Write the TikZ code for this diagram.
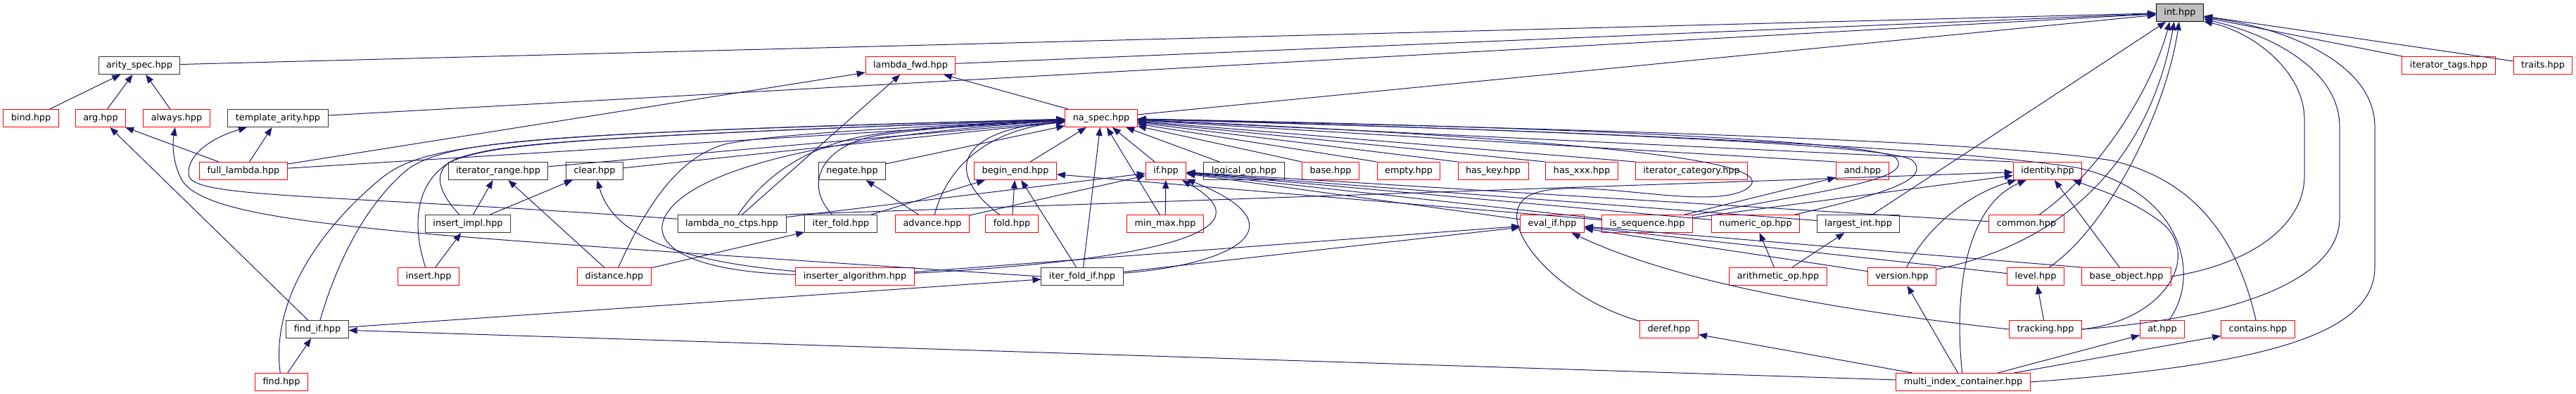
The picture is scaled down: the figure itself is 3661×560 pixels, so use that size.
\documentclass[tikz,border=0pt]{standalone}
\usepackage{fontspec}
\setmainfont{DejaVu Sans}
\usetikzlibrary{arrows.meta}
\definecolor{midnightblue}{RGB}{25,25,112}
\definecolor{grey75}{RGB}{191,191,191}
\begin{document}
\begin{tikzpicture}[x=0.5pt,y=-0.5pt,
    file/.style={draw=black!80, line width=0.5pt, minimum height=12.5pt,
      inner xsep=5.5pt, inner ysep=0pt, text height=4.8pt, text depth=1.4pt,
      font=\fontsize{6.4}{7.6}\selectfont},
    part/.style={file, draw=red},
    root/.style={file, draw=black, fill=grey75},
    dep/.style={midnightblue, line width=0.5pt, -{Triangle[length=6pt,width=4.6pt]}}]
  \useasboundingbox (0,0) rectangle (3661,560);

  \node[root] (int) at (3098,18) {int.hpp}; % the header itself

  \node[file] (arity_spec) at (198,93) {arity\_spec.hpp};
  \node[part] (lambda_fwd) at (1294,93) {lambda\_fwd.hpp};
  \node[part] (iterator_tags) at (3480,93) {iterator\_tags.hpp};
  \node[part] (traits) at (3614,93) {traits.hpp};

  \node[part] (bind) at (44,168) {bind.hpp};
  \node[part] (arg) at (143,168) {arg.hpp};
  \node[part] (always) at (251,168) {always.hpp};
  \node[file] (template_arity) at (395,168) {template\_arity.hpp};
  \node[part] (na_spec) at (1565,168) {na\_spec.hpp};

  \node[part] (full_lambda) at (346,243) {full\_lambda.hpp};
  \node[file] (iterator_range) at (708,243) {iterator\_range.hpp};
  \node[file] (clear) at (845,243) {clear.hpp};
  \node[file] (negate) at (1211,243) {negate.hpp};
  \node[part] (begin_end) at (1443,243) {begin\_end.hpp};
  \node[part] (if) at (1657,243) {if.hpp};
  \node[file] (logical_op) at (1768,243) {logical\_op.hpp};
  \node[part] (base) at (1891,243) {base.hpp};
  \node[part] (empty) at (2002,243) {empty.hpp};
  \node[part] (has_key) at (2122,243) {has\_key.hpp};
  \node[part] (has_xxx) at (2248,243) {has\_xxx.hpp};
  \node[part] (iterator_category) at (2404,243) {iterator\_category.hpp};
  \node[part] (and) at (2647,243) {and.hpp};
  \node[part] (identity) at (2910,243) {identity.hpp};

  \node[file] (insert_impl) at (665,318) {insert\_impl.hpp};
  \node[file] (lambda_no_ctps) at (1040,318) {lambda\_no\_ctps.hpp};
  \node[file] (iter_fold) at (1195,318) {iter\_fold.hpp};
  \node[part] (advance) at (1325,318) {advance.hpp};
  \node[part] (fold) at (1438,318) {fold.hpp};
  \node[part] (min_max) at (1656,318) {min\_max.hpp};
  \node[part] (eval_if) at (2206,318) {eval\_if.hpp};
  \node[part] (is_sequence) at (2341,318) {is\_sequence.hpp};
  \node[part] (numeric_op) at (2495,318) {numeric\_op.hpp};
  \node[file] (largest_int) at (2641,318) {largest\_int.hpp};
  \node[part] (common) at (2880,318) {common.hpp};

  \node[part] (insert) at (609,393) {insert.hpp};
  \node[part] (distance) at (873,393) {distance.hpp};
  \node[part] (inserter_algorithm) at (1215,393) {inserter\_algorithm.hpp};
  \node[file] (iter_fold_if) at (1538,393) {iter\_fold\_if.hpp};
  \node[part] (arithmetic_op) at (2527,393) {arithmetic\_op.hpp};
  \node[part] (version) at (2703,393) {version.hpp};
  \node[part] (level) at (2893,393) {level.hpp};
  \node[part] (base_object) at (3022,393) {base\_object.hpp};

  \node[file] (find_if) at (451,468) {find\_if.hpp};
  \node[part] (deref) at (2372,468) {deref.hpp};
  \node[part] (tracking) at (2907,468) {tracking.hpp};
  \node[part] (at) at (3073,468) {at.hpp};
  \node[part] (contains) at (3209,468) {contains.hpp};

  \node[part] (find) at (400,543) {find.hpp};
  \node[part] (multi_index_container) at (2790,543) {multi\_index\_container.hpp};

  % edges into int.hpp
  \draw[dep] (arity_spec) -- (int);
  \draw[dep] (lambda_fwd) -- (int);
  \draw[dep] (template_arity) -- (int);
  \draw[dep] (na_spec) -- (int);
  \draw[dep] (iterator_tags) -- (int);
  \draw[dep] (traits) -- (int);
  \draw[dep] (largest_int) -- (int);
  \draw[dep] (common) .. controls (2990,240) and (3060,120) .. (int.222);
  \draw[dep] (version) .. controls (2960,340) and (3060,200) .. (int.238);
  \draw[dep] (level) .. controls (3000,320) and (3080,150) .. (int.265);
  \draw[dep] (base_object.east) .. controls (3200,375) and (3275,320) .. (3275,250)
    -- (3275,170) .. controls (3275,100) and (3200,45) .. (int.340);
  \draw[dep] (tracking.east) .. controls (3200,450) and (3325,390) .. (3325,310)
    -- (3325,180) .. controls (3325,100) and (3230,50) .. (int.345);
  \draw[dep] (multi_index_container.east) .. controls (3200,520) and (3375,480) .. (3375,380)
    -- (3375,180) .. controls (3375,90) and (3250,40) .. (int.350);

  % arity_spec.hpp and lambda_fwd.hpp
  \draw[dep] (bind) -- (arity_spec);
  \draw[dep] (arg) -- (arity_spec);
  \draw[dep] (always) -- (arity_spec);
  \draw[dep] (full_lambda) -- (lambda_fwd);
  \draw[dep] (lambda_no_ctps) -- (lambda_fwd);
  \draw[dep] (na_spec) -- (lambda_fwd);

  % arg.hpp, always.hpp, template_arity.hpp
  \draw[dep] (full_lambda) -- (arg);
  \draw[dep] (find_if) -- (arg);
  \draw[dep] (full_lambda) -- (template_arity);
  \draw[dep] (lambda_no_ctps.175) .. controls (450,275) and (270,282) .. (268,248)
    .. controls (266,220) and (300,196) .. (template_arity);
  \draw[dep] (iter_fold_if.west) .. controls (1100,368) and (700,342) .. (560,328)
    .. controls (400,312) and (280,295) .. (258,255)
    .. controls (245,230) and (245,205) .. (always);

  % na_spec.hpp from the left
  \draw[dep] (full_lambda) -- (na_spec);
  \draw[dep] (iterator_range) -- (na_spec);
  \draw[dep] (clear) -- (na_spec);
  \draw[dep] (negate) -- (na_spec);
  \draw[dep] (begin_end) -- (na_spec);
  \draw[dep] (iter_fold_if) -- (na_spec);
  \draw[dep] (min_max) -- (na_spec);
  \draw[dep] (if) -- (na_spec);
  \draw[dep] (logical_op) -- (na_spec);
  \draw[dep] (insert_impl) .. controls (620,270) and (610,235) .. (660,222)
    .. controls (720,205) and (800,195) .. (na_spec);
  \draw[dep] (insert) .. controls (585,320) and (590,260) .. (640,230)
    .. controls (700,205) and (800,195) .. (na_spec);
  \draw[dep] (distance) .. controls (915,300) and (960,225) .. (1030,205)
    .. controls (1100,190) and (1300,180) .. (na_spec);
  \draw[dep] (inserter_algorithm) .. controls (960,385) and (920,340) .. (950,300)
    .. controls (990,245) and (1150,195) .. (na_spec);
  \draw[dep] (lambda_no_ctps) .. controls (1080,260) and (1130,215) .. (1220,195)
    .. controls (1300,180) and (1420,175) .. (na_spec);
  \draw[dep] (iter_fold) .. controls (1140,260) and (1170,205) .. (1250,192)
    .. controls (1320,182) and (1420,175) .. (na_spec);
  \draw[dep] (advance) .. controls (1345,240) and (1400,185) .. (na_spec);
  \draw[dep] (fold) .. controls (1340,245) and (1360,185) .. (na_spec);
  \draw[dep] (find_if) .. controls (480,370) and (520,290) .. (580,240)
    .. controls (640,200) and (750,190) .. (na_spec);
  \draw[dep] (find) .. controls (385,430) and (450,330) .. (540,255)
    .. controls (600,205) and (700,190) .. (na_spec);

  % na_spec.hpp from the right
  \draw[dep] (base.north west) -- (na_spec);
  \draw[dep] (empty.north west) -- (na_spec);
  \draw[dep] (has_key.north west) -- (na_spec);
  \draw[dep] (has_xxx.north west) -- (na_spec);
  \draw[dep] (iterator_category.north west) -- (na_spec);
  \draw[dep] (and.north west) -- (na_spec);
  \draw[dep] (identity.north west) -- (na_spec);
  \draw[dep] (is_sequence) .. controls (2600,270) and (2720,255) .. (2695,225)
    .. controls (2670,200) and (2200,180) .. (na_spec);
  \draw[dep] (numeric_op) .. controls (2680,275) and (2745,255) .. (2718,228)
    .. controls (2690,205) and (2200,185) .. (na_spec);
  \draw[dep] (deref) .. controls (2200,420) and (2110,300) .. (2180,275)
    .. controls (2250,250) and (2420,300) .. (2480,270)
    .. controls (2530,240) and (2420,205) .. (na_spec);
  \draw[dep] (at) .. controls (3130,390) and (3100,270) .. (2950,238)
    .. controls (2700,200) and (2000,180) .. (na_spec);
  \draw[dep] (contains) .. controls (3180,340) and (3120,255) .. (3000,228)
    .. controls (2800,195) and (2000,178) .. (na_spec);

  % begin_end.hpp
  \draw[dep] (fold) -- (begin_end);
  \draw[dep] (iter_fold) -- (begin_end);
  \draw[dep] (iter_fold_if) -- (begin_end);
  \draw[dep] (is_sequence) -- (begin_end);

  % if.hpp
  \draw[dep] (advance) -- (if);
  \draw[dep] (min_max) -- (if);
  \draw[dep] (lambda_no_ctps) -- (if);
  \draw[dep] (eval_if) -- (if);
  \draw[dep] (is_sequence) -- (if);
  \draw[dep] (numeric_op) -- (if);
  \draw[dep] (largest_int) -- (if);
  \draw[dep] (common) -- (if);
  \draw[dep] (inserter_algorithm) .. controls (1600,372) and (1820,335) .. (if);
  \draw[dep] (iter_fold_if) .. controls (1760,375) and (1850,320) .. (if);

  % eval_if.hpp
  \draw[dep] (inserter_algorithm) -- (eval_if);
  \draw[dep] (iter_fold_if) -- (eval_if);
  \draw[dep] (version) -- (eval_if);
  \draw[dep] (level) -- (eval_if);
  \draw[dep] (base_object.north west) -- (eval_if);
  \draw[dep] (tracking.west) .. controls (2600,440) and (2380,400) .. (eval_if);

  % identity.hpp and and.hpp
  \draw[dep] (lambda_no_ctps.north east) -- (identity);
  \draw[dep] (is_sequence) -- (identity);
  \draw[dep] (is_sequence) -- (and);
  \draw[dep] (base_object) -- (identity);
  \draw[dep] (version) .. controls (2740,320) and (2800,275) .. (identity);
  \draw[dep] (multi_index_container) .. controls (2775,400) and (2800,290) .. (identity);
  \draw[dep] (tracking.east) .. controls (3080,455) and (3130,360) .. (3070,315)
    .. controls (3030,285) and (2990,272) .. (identity);

  % the rest
  \draw[dep] (insert_impl) -- (iterator_range);
  \draw[dep] (insert_impl) -- (clear);
  \draw[dep] (distance) -- (iterator_range);
  \draw[dep] (inserter_algorithm) .. controls (950,370) and (870,330) .. (clear);
  \draw[dep] (insert) -- (insert_impl);
  \draw[dep] (advance) -- (negate);
  \draw[dep] (distance) -- (iter_fold);
  \draw[dep] (arithmetic_op) -- (numeric_op);
  \draw[dep] (arithmetic_op) -- (largest_int);
  \draw[dep] (tracking) -- (level);
  \draw[dep] (find) -- (find_if);
  \draw[dep] (find_if) -- (iter_fold_if);
  \draw[dep] (multi_index_container) -- (find_if);
  \draw[dep] (multi_index_container) -- (version);
  \draw[dep] (multi_index_container) -- (deref);
  \draw[dep] (multi_index_container) -- (at);
  \draw[dep] (multi_index_container) -- (contains);
\end{tikzpicture}
\end{document}
